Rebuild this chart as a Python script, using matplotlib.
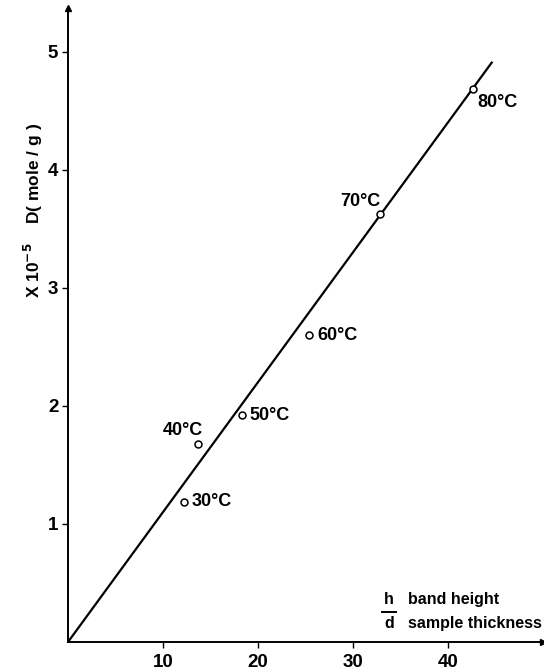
"""
Coeficiente D frente a h/d (altura de banda / espesor de muestra).
"""

import matplotlib

matplotlib.use("Agg")
import matplotlib.pyplot as plt  # noqa: E402

plt.rcParams["font.family"] = ["Liberation Sans", "DejaVu Sans"]
plt.rcParams["font.weight"] = "bold"

# datos
temps = ["30°C", "40°C", "50°C", "60°C", "70°C", "80°C"]
h_over_d = [12.2, 13.7, 18.3, 25.4, 32.8, 42.6]
d_values = [1.19, 1.68, 1.92, 2.60, 3.63, 4.69]
fit_x = [0, 44.6]
fit_y = [0, 4.91]
x_ticks = [10, 20, 30, 40]
y_ticks = [1, 2, 3, 4, 5]

# desplazamiento de cada etiqueta (pixeles) y alineacion
label_offsets = [(8, 0, "left"), (-15, 13, "center"), (8, 0, "left"),
                 (8, 0, "left"), (1, 12, "right"), (5, -14, "left")]

W, H = 544, 671
fig = plt.figure(figsize=(W / 100, H / 100), dpi=100)
ax = fig.add_axes([68 / W, (H - 642) / H, 475 / W, 634 / H])

ax.plot(fit_x, fit_y, color="black", linewidth=1.6)
ax.plot(h_over_d, d_values, linestyle="none", marker="o", markersize=5,
        markerfacecolor="white", markeredgecolor="black", markeredgewidth=1.1)

for t, x, y, (dx, dy, ha) in zip(temps, h_over_d, d_values, label_offsets):
    ax.annotate(t, xy=(x, y), xytext=(dx, dy), textcoords="offset pixels",
                ha=ha, va="center", fontsize=13, fontweight="bold")

ax.set_xlim(0, 50)
ax.set_ylim(0, 634 / 118)
ax.set_xticks(x_ticks)
ax.set_yticks(y_ticks)
ax.tick_params(direction="out", length=4, width=1, labelsize=13.5)
ax.tick_params(axis="y", pad=3)
ax.tick_params(axis="x", pad=4.5)
ax.spines[["top", "right"]].set_visible(False)
ax.spines[["left", "bottom"]].set_linewidth(1.4)

# flechas de los ejes
ax.plot(1, 0, ">k", markersize=5, transform=ax.transAxes, clip_on=False)
ax.plot(0, 1, "^k", markersize=5, transform=ax.transAxes, clip_on=False)

# leyenda de ejes
ax.text(33.2, 0.356, "h", fontsize=11.5, ha="left", va="center")
ax.text(33.3, 0.153, "d", fontsize=11.5, ha="left", va="center")
ax.plot([33.1, 34.5], [0.255, 0.255], color="black", linewidth=1.4)
ax.text(35.8, 0.356, "band height", fontsize=11.5, ha="left", va="center")
ax.text(35.8, 0.153, "sample thickness", fontsize=11.5, ha="left", va="center")

fig.text(33 / W, 1 - 210 / H, "X 10$^{-5}$    D( mole / g )", rotation=90,
         ha="center", va="center", fontsize=12.5, fontweight="bold")

fig.savefig("out.png", dpi=100)
plt.close(fig)
